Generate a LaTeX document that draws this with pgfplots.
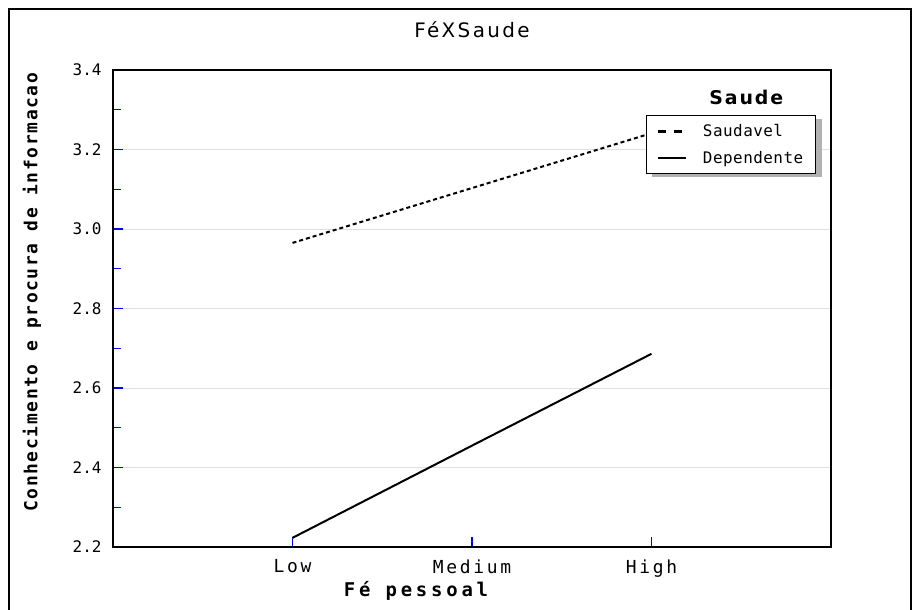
\documentclass[border=0pt]{standalone}
\usepackage{pgfplots}
\pgfplotsset{compat=1.18}
\usepackage{fontspec}
\setmainfont{DejaVu Sans}
\newfontfamily\ytickfont{DejaVu Sans Mono}
\newfontfamily\xtickfont{DejaVu Sans Mono}[LetterSpace=15]
\newfontfamily\legfont{DejaVu Sans Mono}[LetterSpace=3]
\newfontfamily\ylabfont{DejaVu Sans Mono}[LetterSpace=9]
\newfontfamily\xlabfont{DejaVu Sans Mono}[LetterSpace=20]
\newfontfamily\titlefont{DejaVu Sans}[LetterSpace=12]
\newfontfamily\legtitlefont{DejaVu Sans}[LetterSpace=10]
\begin{document}
\begin{tikzpicture}[x=1bp,y=1bp]
\useasboundingbox (0,0) rectangle (919,610);
\draw[line width=2bp] (9,0) -- (9,601) -- (911,601) -- (911,0);
\begin{axis}[
  at={(113bp,63bp)}, anchor=south west,
  scale only axis, width=718bp, height=477bp,
  xmin=0, xmax=4, ymin=2.2, ymax=3.4,
  xtick={1,2,3}, xticklabels={Low,Medium,High},
  ytick={2.2,2.4,2.6,2.8,3.0,3.2,3.4},
  minor ytick={2.3,2.5,2.7,2.9,3.1,3.3},
  /pgf/number format/assume math mode=true,
  yticklabel style={/pgf/number format/fixed, /pgf/number format/precision=1, /pgf/number format/fixed zerofill,
    font=\ytickfont\fontsize{16}{16}\selectfont, xshift=-8bp},
  tick label style={black},
  xticklabel style={font=\xtickfont\fontsize{18}{18}\selectfont, yshift=-9bp},
  tick align=inside, xtick pos=bottom, ytick pos=left,
  major tick length=10bp, minor tick length=8bp,
  major tick style={blue, line width=1.2bp},
  minor tick style={blue, line width=1.2bp},
  ymajorgrids, grid style={gray!25, line width=0.8bp},
  axis line style={line width=2.5bp},
  title={FéXSaude},
  title style={font=\titlefont\fontsize{20}{20}\selectfont, at={(axis description cs:0.5,1.072)}, anchor=center},
  xlabel={Fé pessoal},
  xlabel style={font=\xlabfont\bfseries\fontsize{19}{19}\selectfont, at={(axis description cs:0.422,-0.092)}, anchor=center},
  ylabel={Conhecimento e procura de informacao},
  ylabel style={font=\ylabfont\bfseries\fontsize{18}{18}\selectfont, at={(axis description cs:-0.113,0.534)}, anchor=center},
  legend style={at={(axis description cs:0.7423,0.9057)}, anchor=north west,
    draw=black, line width=1bp, fill=white,
    font=\legfont\fontsize{16}{16}\selectfont, row sep=9bp, column sep=14bp,
    inner xsep=10bp, inner ysep=7bp, cells={anchor=west}},
  legend cell align=left,
]
\fill[gray!60] (axis description cs:0.7500,0.897) rectangle (axis description cs:0.9875,0.7757);
\addplot[black, line width=2bp, dash pattern=on 4bp off 3bp,
  legend image code/.code={\draw[black, line width=2.5bp, dash pattern=on 8bp off 8bp] (0bp,0bp) -- (28bp,0bp);}]
  coordinates {(1,2.965) (2,3.103) (3,3.241)};
\addlegendentry{Saudavel}
\addplot[black, line width=2bp,
  legend image code/.code={\draw[black, line width=2.5bp] (0bp,0bp) -- (28bp,0bp);}]
  coordinates {(1,2.223) (2,2.455) (3,2.686)};
\addlegendentry{Dependente}
\node[font=\legtitlefont\bfseries\fontsize{19}{19}\selectfont] at (axis description cs:0.882,0.943) {Saude};
\end{axis}
\end{tikzpicture}
\end{document}
